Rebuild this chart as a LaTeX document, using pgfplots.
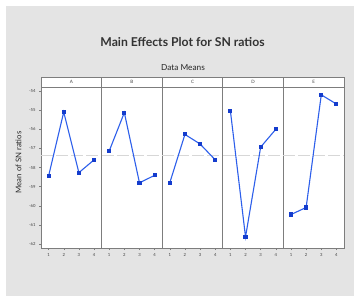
\documentclass[border=0pt]{standalone}
\usepackage{pgfplots}
\pgfplotsset{compat=1.18}
\usepackage{fontspec}
\setmainfont{Lato}
\definecolor{bg}{RGB}{228,228,228}
\definecolor{ln}{RGB}{45,95,235}
\definecolor{mk}{RGB}{20,60,205}
\definecolor{fr}{RGB}{125,125,125}
\definecolor{meanc}{RGB}{215,215,215}
\pgfplotsset{
  panel/.style n args={2}{
    at={(#1,50pt)}, anchor=south west,
    width=60.6pt, height=161pt, scale only axis,
    xmin=0.5, xmax=4.5, ymin=-62.21, ymax=-53.79,
    xtick={1,2,3,4}, ytick=\empty,
    tick align=outside, xtick pos=bottom,
    major tick length=2pt,
    tick style={fr, line width=0.4pt},
    axis line style={fr, line width=0.7pt},
    ticklabel style={font=\fontsize{4.2}{5}\selectfont, text=black!75},
    xticklabel style={yshift=0.5pt},
    /pgf/number format/assume math mode=true,
    axis background/.style={fill=white},
    clip=false,
    execute at end axis={
      \draw[fr, line width=0.7pt, fill=white] (rel axis cs:0,1) rectangle ([yshift=10pt]rel axis cs:1,1);
      \node[font=\fontsize{4.5}{5}\selectfont, text=black!75] at ([yshift=5pt]rel axis cs:0.5,1) {#2};
    },
  },
  meanline/.style={meanc, line width=1pt, dash pattern=on 12pt off 3pt, forget plot},
  mainline/.style={ln, line width=1.1pt, mark=square*, mark size=1.5pt, mark options={mk, fill=mk, solid}},
}
\begin{document}
\begin{tikzpicture}
\useasboundingbox (0,0) rectangle (358pt,298pt);
\fill[white] (0,0) rectangle (358pt,298pt);
\fill[bg] (6pt,2pt) rectangle (354pt,292pt);
\node[font=\fontsize{12.2}{14}\selectfont\bfseries, text=black!80] at (182.5pt,256pt) {Main Effects Plot for SN ratios};
\node[font=\fontsize{8.3}{10}\selectfont, text=black!85] at (183pt,230.5pt) {Data Means};
\node[font=\fontsize{7.8}{9}\selectfont, text=black!85, rotate=90] at (18.5pt,135.5pt) {Mean of SN ratios};

\begin{axis}[panel={41pt}{A}, ytick={-62,-61,-60,-59,-58,-57,-56,-55,-54}, ytick pos=left]
\addplot[meanline] coordinates {(0.5,-57.37) (4.5,-57.37)};
\addplot[mainline] coordinates {(1,-58.45) (2,-55.10) (3,-58.27) (4,-57.60)};
\end{axis}
\begin{axis}[panel={101.6pt}{B}]
\addplot[meanline] coordinates {(0.5,-57.37) (4.5,-57.37)};
\addplot[mainline] coordinates {(1,-57.14) (2,-55.13) (3,-58.80) (4,-58.41)};
\end{axis}
\begin{axis}[panel={162.2pt}{C}]
\addplot[meanline] coordinates {(0.5,-57.37) (4.5,-57.37)};
\addplot[mainline] coordinates {(1,-58.80) (2,-56.27) (3,-56.77) (4,-57.60)};
\end{axis}
\begin{axis}[panel={222.8pt}{D}]
\addplot[meanline] coordinates {(0.5,-57.37) (4.5,-57.37)};
\addplot[mainline] coordinates {(1,-55.03) (2,-61.63) (3,-56.93) (4,-56.00)};
\end{axis}
\begin{axis}[panel={283.4pt}{E}]
\addplot[meanline] coordinates {(0.5,-57.37) (4.5,-57.37)};
\addplot[mainline] coordinates {(1,-60.46) (2,-60.09) (3,-54.20) (4,-54.68)};
\end{axis}
\end{tikzpicture}
\end{document}
